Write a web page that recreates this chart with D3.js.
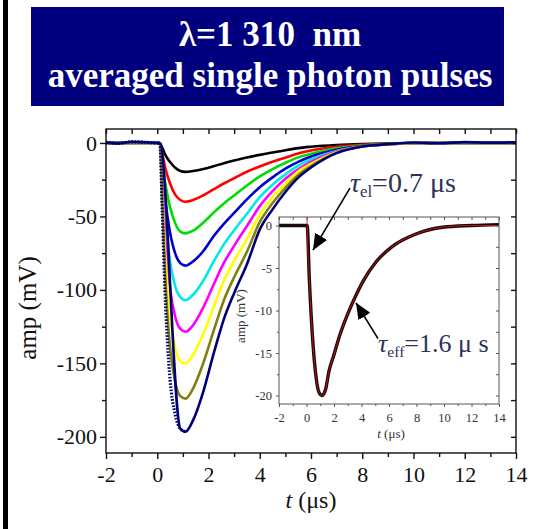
<!DOCTYPE html>
<html lang="en">
<head>
<meta charset="UTF-8">
<title>averaged single photon pulses</title>
<style>
  body { margin: 0; background: #fff; }
  svg { display: block; }
  text { font-family: "Liberation Serif", "Times New Roman", serif; }
</style>
<script src="https://d3js.org/d3.v7.min.js"></script>
</head>
<body>
<div id="svg"></div>
<script>
// time axis (us) shared by all the pulses of the main plot
const times = [-2, -1.5, -1, -0.5, 0, 0.1, 0.2, 0.3, 0.4, 0.5, 0.7, 0.9, 1.1, 1.4, 1.8, 2.2, 2.6, 3.0, 3.5, 4.0, 4.5, 5.0, 5.5, 6.0, 7.0, 8.0, 9.0, 10, 11, 12, 13, 14]

// amplitudes (mV), one array per averaged pulse
const blackPulse   = [0, 0.2, 0, 0.3, 0, 0, -3.5, -7.5, -10.6, -13.0, -16.9, -19.1, -19.7, -19.1, -17.7, -15.8, -13.8, -12.0, -9.9, -8.1, -6.5, -4.9, -3.5, -2.6, -1.4, -0.7, -0.3, -0.1, 0, 0, 0, 0]
const redPulse     = [0, 0, 0.2, 0, 0, 0, -7.6, -16.0, -22.4, -27.6, -35.2, -38.8, -40.0, -38.8, -35.6, -31.6, -27.6, -24.0, -19.6, -16.0, -12.8, -10.0, -7.2, -5.2, -2.6, -1.2, -0.5, -0.2, 0, 0, 0, 0]
const greenPulse   = [0, 0, 0, 0, 0, 0, -12.3, -25.8, -35.7, -43.7, -54.7, -60.3, -61.5, -59.7, -54.1, -47.4, -41.2, -35.7, -28.9, -22.8, -17.8, -13.5, -9.8, -7.4, -3.7, -1.7, -0.6, -0.2, 0, 0, 0, 0]
const bluePulse    = [0, 0, 0, 0, 0, 0, -17.5, -36.7, -50.1, -61.0, -75.2, -81.8, -83.5, -80.6, -73.5, -63.5, -55.1, -47.6, -38.4, -30.1, -23.4, -17.5, -12.9, -9.2, -4.6, -2.1, -0.8, -0.2, 0, 0, 0, 0]
const cyanPulse    = [0, 0, 0, 0, 0, 0, -23.5, -48.2, -66.3, -80.3, -97.4, -104.9, -107.0, -103.3, -93.6, -80.8, -69.0, -59.4, -48.2, -36.9, -28.4, -21.4, -15.5, -11.2, -5.4, -2.4, -0.9, -0.2, 0, 0, 0, 0]
const magentaPulse = [0, 0, 0, 0, 0, 0, -29.6, -60.4, -82.2, -98.9, -118.2, -126.6, -128.5, -124.0, -111.8, -96.4, -81.6, -70.0, -56.5, -43.0, -32.8, -24.4, -18.0, -12.9, -5.8, -2.3, -0.9, -0.1, 0, 0, 0, 0]
const yellowPulse  = [0, 0, 0, 0, 0, 0, -36.0, -72.0, -99.0, -118.5, -139.5, -148.5, -150.0, -144.0, -129.8, -111.8, -93.8, -80.3, -65.3, -48.8, -36.8, -27.8, -19.5, -14.3, -6.3, -2.4, -0.9, 0, 0, 0, 0, 0]
const olivePulse   = [0, 0, 0, 0, 0, 0, -42.6, -87.0, -117.5, -139.2, -162.7, -172.3, -174.0, -167.0, -149.6, -127.9, -107.0, -91.4, -74.0, -53.9, -40.9, -30.5, -21.8, -15.7, -6.6, -2.4, -0.9, 0, 0, 0, 0, 0]
const navyPulse    = [0.4, -0.3, 0.8, 0.5, 0, 0, -49.1, -100.2, -135.6, -161.1, -184.7, -194.5, -196.5, -188.6, -169.0, -143.4, -119.9, -102.2, -82.5, -59.0, -45.2, -33.4, -23.6, -16.7, -6.9, -2.4, -0.8, 0.3, -0.2, 0.6, 0.2, 0.5]

const pulses = [blackPulse, redPulse, greenPulse, bluePulse, cyanPulse, magentaPulse, yellowPulse, olivePulse, navyPulse]
const pulseColors = ["#000000", "#ff0000", "#00dd00", "#0000cc", "#00e8e8", "#ff00ff", "#ffff00", "#808010", "#000078"]

// inset: single normalised pulse and its fit
const insetTimes = [-2, -1, 0, 0.05, 0.2, 0.47, 0.7, 0.9, 1.13, 1.4, 1.64, 2.0, 2.36, 3.0, 3.6, 4.1, 5.05, 6.3, 7.96, 9.9, 12, 14]
const insetAmp   = [0, 0, 0, 0, -6.1, -13.9, -17.9, -19.6, -20.0, -19.2, -17.1, -15.2, -13.2, -10.4, -8.2, -6.6, -4.3, -2.4, -1.0, -0.2, 0, 0.1]
const fitTimes = [0.04, 0.05, 0.2, 0.47, 0.7, 0.9, 1.13, 1.4, 1.64, 2.0, 2.36, 3.0, 3.6, 4.1, 5.05, 6.3, 7.96, 9.9, 12, 14]
const fitAmp   = [1.0, 0, -6.1, -13.9, -17.9, -19.6, -20.0, -19.2, -17.1, -15.2, -13.2, -10.4, -8.2, -6.6, -4.3, -2.4, -1.0, -0.2, 0, 0]

// tick labels
const xMajor = [-2, 0, 2, 4, 6, 8, 10, 12, 14]
const xMinor = [-1, 1, 3, 5, 7, 9, 11, 13]
const yMajor = [0, -50, -100, -150, -200]
const yMinor = [-25, -75, -125, -175]
const insetYMajor = [0, -5, -10, -15, -20]
const insetYMinor = [-2.5, -7.5, -12.5, -17.5]

const titleLines = ["λ=1 310  nm", "averaged single photon pulses"]

const boxWidth = 546, boxHeight = 529

const svg = d3.select("#svg").append("svg").attr("width", boxWidth).attr("height", boxHeight)

// left black bar + title box
svg.append("rect").attr("x", 3).attr("y", 0).attr("width", 5).attr("height", boxHeight).attr("fill", "#000")
svg.append("rect").attr("x", 31).attr("y", 7).attr("width", 473).attr("height", 99).attr("fill", "#00007f")
titleLines.forEach((s, i) => {
    svg.append("text")
        .attr("transform", `translate(270, ${i === 0 ? 46 : 87}) scale(0.96, 1)`)
        .attr("text-anchor", "middle")
        .attr("fill", "#fff")
        .attr("font-weight", "bold")
        .attr("font-size", 36.5)
        .style("white-space", "pre")
        .text(s)
})

function drawFrame(g, x, y, o) {
    const [x0, x1] = x.range(), [y0, y1] = y.range()
    const fmt = d => String(d)

    g.append("g").attr("transform", `translate(0, ${y1})`)
        .call(d3.axisBottom(x).tickValues(o.xMinor).tickSize(o.minor).tickSizeOuter(0).tickFormat(""))
    g.append("g").attr("transform", `translate(0, ${y1})`)
        .call(d3.axisBottom(x).tickValues(o.xMajor).tickSize(o.major).tickSizeOuter(0).tickPadding(o.xPad).tickFormat(fmt))
    g.append("g").attr("transform", `translate(0, ${y0})`)
        .call(d3.axisTop(x).tickValues(o.xMinor.concat(o.xMajor)).tickSize(-o.minor - 1).tickSizeOuter(0).tickFormat(""))
    g.append("g").attr("transform", `translate(${x0}, 0)`)
        .call(d3.axisLeft(y).tickValues(o.yMinor).tickSize(o.minor).tickSizeOuter(0).tickFormat(""))
    g.append("g").attr("transform", `translate(${x0}, 0)`)
        .call(d3.axisLeft(y).tickValues(o.yMajor).tickSize(o.major).tickSizeOuter(0).tickPadding(o.yPad).tickFormat(fmt))
    g.append("g").attr("transform", `translate(${x1}, 0)`)
        .call(d3.axisRight(y).tickValues(o.yMinor.concat(o.yMajor)).tickSize(-o.minor - 1).tickSizeOuter(0).tickFormat(""))

    g.selectAll(".domain").remove()
    g.selectAll(".tick line").attr("stroke", o.color).attr("stroke-width", o.width)
    g.selectAll(".tick text").attr("fill", o.textColor).attr("font-size", o.fontSize)
        .attr("font-family", '"Liberation Serif", "Times New Roman", serif')

    g.append("rect").attr("x", x0).attr("y", y0).attr("width", x1 - x0).attr("height", y1 - y0)
        .attr("fill", "none").attr("stroke", o.color).attr("stroke-width", o.width)
}

// ---- main plot ----
const x = d3.scaleLinear().domain([-2, 14]).range([106, 516])
const y = d3.scaleLinear().domain([9.5, -211]).range([129, 453])

const main = svg.append("g").attr("id", "mainGroup")
const line = d3.line().x(d => x(d[0])).y(d => y(d[1])).curve(d3.curveMonotoneX)

pulses.forEach((p, i) => {
    const pts = times.map((t, j) => [t, p[j]])
    if (i === pulses.length - 1) {
        // last pulse: dotted on the fast edge, solid elsewhere
        main.append("path").attr("d", line(pts.filter(d => d[0] <= 1.1)))
            .attr("fill", "none").attr("stroke", pulseColors[i]).attr("stroke-width", 3.2)
            .attr("stroke-dasharray", "1.6 1.6")
        main.append("path").attr("d", line(pts.filter(d => d[0] >= 0.9 || d[0] <= 0.1)))
            .attr("fill", "none").attr("stroke", pulseColors[i]).attr("stroke-width", 2.6)
    } else {
        main.append("path").attr("d", line(pts))
            .attr("fill", "none").attr("stroke", pulseColors[i]).attr("stroke-width", 2.6)
    }
})

drawFrame(main, x, y, {
    xMajor, xMinor, yMajor, yMinor,
    major: 6, minor: 4, xPad: 7, yPad: 3,
    color: "#111", width: 1.4, textColor: "#111", fontSize: 22
})

main.append("text")
    .attr("transform", "translate(36, 308) rotate(-90)")
    .attr("text-anchor", "middle").attr("font-size", 25).attr("fill", "#111")
    .text("amp (mV)")

const xl = main.append("text").attr("x", 311).attr("y", 508)
    .attr("text-anchor", "middle").attr("font-size", 24).attr("fill", "#111")
xl.append("tspan").attr("font-style", "italic").text("t")
xl.append("tspan").text(" (μs)")

// ---- inset ----
const xi = d3.scaleLinear().domain([-2, 14]).range([279, 499])
const yi = d3.scaleLinear().domain([1, -21]).range([217, 404])
const inset = svg.append("g").attr("id", "insetGroup")

inset.append("rect").attr("x", 279).attr("y", 217).attr("width", 220).attr("height", 187).attr("fill", "#fff")

const iline = d3.line().x(d => xi(d[0])).y(d => yi(d[1])).curve(d3.curveMonotoneX)
inset.append("path").attr("d", iline(insetTimes.map((t, j) => [t, insetAmp[j]])))
    .attr("fill", "none").attr("stroke", "#1a0a0a").attr("stroke-width", 3.4)
inset.append("path").attr("d", iline(fitTimes.map((t, j) => [t, fitAmp[j]])))
    .attr("fill", "none").attr("stroke", "#d01010").attr("stroke-width", 0.9)

drawFrame(inset, xi, yi, {
    xMajor, xMinor, yMajor: insetYMajor, yMinor: insetYMinor,
    major: 3, minor: 2, xPad: 6, yPad: 4,
    color: "#555", width: 1, textColor: "#333", fontSize: 12.5
})

inset.append("text")
    .attr("transform", "translate(245, 316) rotate(-90)")
    .attr("text-anchor", "middle").attr("font-size", 13).attr("fill", "#333")
    .text("amp (mV)")
const ixl = inset.append("text").attr("x", 391).attr("y", 438)
    .attr("text-anchor", "middle").attr("font-size", 13).attr("fill", "#333")
ixl.append("tspan").attr("font-style", "italic").text("t")
ixl.append("tspan").text(" (μs)")

// ---- annotations (placed in inset units) ----
const defs = svg.append("defs")
defs.append("marker").attr("id", "head").attr("markerUnits", "userSpaceOnUse")
    .attr("viewBox", "0 0 16 14").attr("refX", 16).attr("refY", 7)
    .attr("markerWidth", 16).attr("markerHeight", 14).attr("orient", "auto")
    .append("path").attr("d", "M0,0 L16,7 L0,14 Z").attr("fill", "#000")

const arrows = [
    { from: [3.16, 4.4], to: [0.47, -2.9] },
    { from: [5.2, -13.3], to: [3.6, -9.1] }
]
arrows.forEach(a => {
    svg.append("line")
        .attr("x1", xi(a.from[0])).attr("y1", yi(a.from[1]))
        .attr("x2", xi(a.to[0])).attr("y2", yi(a.to[1]))
        .attr("stroke", "#000").attr("stroke-width", 1.6)
        .attr("marker-end", "url(#head)")
})

const noteColor = "#2b3358"
function note(tx, ty, sub, rest, size) {
    const t = svg.append("text").attr("x", xi(tx)).attr("y", yi(ty))
        .attr("font-size", size).attr("fill", noteColor)
    t.append("tspan").attr("font-style", "italic").text("τ")
    t.append("tspan").attr("font-size", size * 0.6).attr("dy", 5).text(sub)
    t.append("tspan").attr("dy", -5).text(rest)
}
note(3.16, 3.9, "el", "=0.7 μs", 28)
note(5.2, -14.9, "eff", "=1.6 μ s", 26)
</script>
</body>
</html>
